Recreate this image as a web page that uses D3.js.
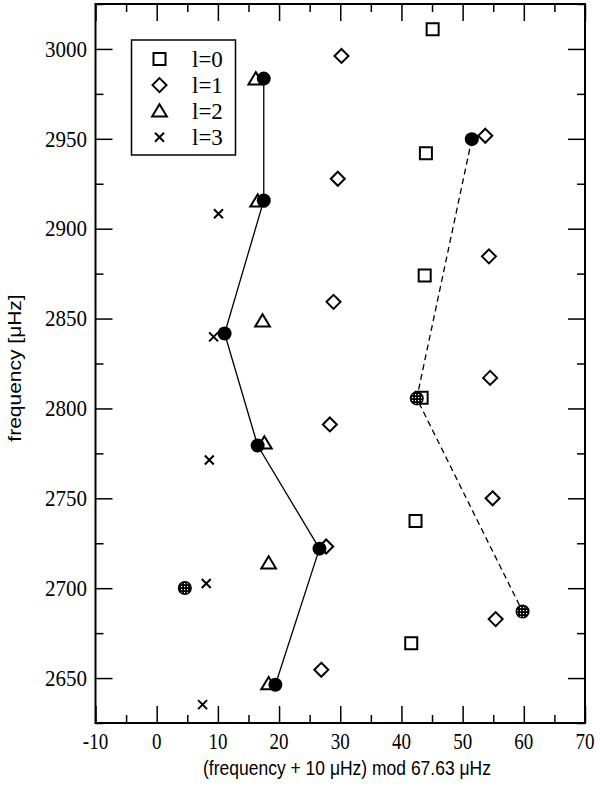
<!DOCTYPE html>
<meta charset="utf-8">
<style>
body { margin: 0; background: #fff; }
.tick-label { font-family: "Liberation Serif", "Times New Roman", serif; font-size: 19px; fill: #000; }
.ytick-label { font-family: "Liberation Serif", "Times New Roman", serif; font-size: 21px; fill: #000; }
.title { font-family: "Liberation Sans", Arial, sans-serif; font-size: 17.5px; fill: #000; }
.legend text { font-family: "Liberation Serif", "Times New Roman", serif; font-size: 23px; fill: #000; }
</style>
<svg width="600" height="786"></svg>
<script src="https://d3js.org/d3.v7.min.js"></script>
<script>

// l=0 .. l=3 modes: offset (x) and frequency (y)
var l0Offset = [45.1, 44.0, 43.8, 43.3, 42.3, 41.6];
var l0Freq   = [3010.9, 2942.0, 2874.0, 2806.0, 2737.4, 2669.3];
var l1Offset = [30.2, 53.7, 29.6, 54.3, 28.9, 54.5, 28.3, 54.9, 27.7, 55.4, 26.9];
var l1Freq   = [2996.1, 2951.7, 2927.8, 2884.6, 2859.3, 2817.0, 2791.1, 2750.0, 2723.2, 2682.8, 2654.6];
var l2Offset = [16.2, 16.5, 17.3, 17.6, 18.3, 18.3];
var l2Freq   = [2983.2, 2915.2, 2848.5, 2780.6, 2713.9, 2646.7];
var l3Offset = [10.1, 9.3, 8.6, 8.1, 7.5];
var l3Freq   = [2908.3, 2839.8, 2771.3, 2702.6, 2635.2];

// filled circles joined by solid line
var solidOffset = [17.5, 17.5, 11.1, 16.5, 26.6, 19.4];
var solidFreq   = [2983.5, 2915.7, 2841.7, 2779.4, 2722.0, 2646.3];
// circles joined by dashed line (true = dotted fill)
var dashOffset = [51.5, 42.5, 59.8];
var dashFreq   = [2949.8, 2805.6, 2687.0];
var dashDotted = [false, true, true];
// lone dotted circle
var loneOffset = [4.6];
var loneFreq   = [2700.1];

var legendLabels = ["l=0", "l=1", "l=2", "l=3"];
var xTicks = [-10, 0, 10, 20, 30, 40, 50, 60, 70];
var yTicks = [2650, 2700, 2750, 2800, 2850, 2900, 2950, 3000];

var svg = d3.select("svg");
var x = d3.scaleLinear().domain([-10, 70]).range([95.5, 585]);
var y = d3.scaleLinear().domain([2625, 3025]).range([723, 4]);

var defs = svg.append("defs");
var pat = defs.append("pattern").attr("id", "dots")
    .attr("width", 3).attr("height", 3).attr("patternUnits", "userSpaceOnUse");
pat.append("rect").attr("width", 3).attr("height", 3).attr("fill", "#000");
pat.append("rect").attr("x", 1).attr("y", 1).attr("width", 1.2).attr("height", 1.2).attr("fill", "#fff");

// axes, ticks inside on all four sides
var xMinor = d3.range(-5, 70, 10);
var yMinor = d3.range(2625, 3030, 50);
[[d3.axisBottom, "translate(0,723)"], [d3.axisTop, "translate(0,4)"]].forEach(function(a) {
    svg.append("g").attr("transform", a[1])
        .call(a[0](x).tickValues(xTicks).tickSizeInner(-17).tickSizeOuter(0).tickFormat(""));
    svg.append("g").attr("transform", a[1])
        .call(a[0](x).tickValues(xMinor).tickSizeInner(-8).tickSizeOuter(0).tickFormat(""));
});
[[d3.axisLeft, "translate(95.5,0)"], [d3.axisRight, "translate(585,0)"]].forEach(function(a) {
    svg.append("g").attr("transform", a[1])
        .call(a[0](y).tickValues(yTicks).tickSizeInner(-17).tickSizeOuter(0).tickFormat(""));
    svg.append("g").attr("transform", a[1])
        .call(a[0](y).tickValues(yMinor).tickSizeInner(-8).tickSizeOuter(0).tickFormat(""));
});
svg.selectAll(".domain").remove();
svg.selectAll(".tick line").attr("stroke", "#000").attr("stroke-width", 1.5);

svg.append("rect").attr("x", 95.5).attr("y", 4).attr("width", 585 - 95.5).attr("height", 719)
    .attr("fill", "none").attr("stroke", "#000").attr("stroke-width", 2);

// tick labels
svg.selectAll(".xlab").data(xTicks).enter().append("text")
    .attr("class", "tick-label").attr("text-anchor", "middle")
    .attr("transform", function(d) { return "translate(" + x(d) + ",749) scale(1,1.2)"; })
    .text(function(d) { return d; });
svg.selectAll(".ylab").data(yTicks).enter().append("text")
    .attr("class", "ytick-label").attr("text-anchor", "end")
    .attr("transform", function(d) { return "translate(87," + (y(d) + 7.8) + ") scale(1,1.1)"; })
    .text(function(d) { return d; });

// titles
svg.append("text").attr("class", "title").attr("text-anchor", "middle")
    .attr("transform", "translate(347,775) scale(1,1.15)")
    .text("(frequency + 10 \u03bcHz) mod 67.63 \u03bcHz");
svg.append("text").attr("class", "title").attr("text-anchor", "middle")
    .attr("transform", "translate(21,368) scale(1,1.2) rotate(-90)")
    .text("frequency [\u03bcHz]");

// symbols
function square(s) { return "M" + (-s) + "," + (-s) + "H" + s + "V" + s + "H" + (-s) + "Z"; }
function diamond(s) { return "M0," + (-s) + "L" + s + ",0L0," + s + "L" + (-s) + ",0Z"; }
function triangle(s) { return "M0," + (-s) + "L" + (s * 1.05) + "," + (s * 0.75) + "L" + (-s * 1.05) + "," + (s * 0.75) + "Z"; }
function cross(s) { return "M" + (-s) + "," + (-s) + "L" + s + "," + s + "M" + (-s) + "," + s + "L" + s + "," + (-s); }

var shapes = [
    {xs: l0Offset, ys: l0Freq, path: square(6)},
    {xs: l1Offset, ys: l1Freq, path: diamond(7)},
    {xs: l2Offset, ys: l2Freq, path: triangle(7)},
    {xs: l3Offset, ys: l3Freq, path: cross(4.5)}
];
var marks = svg.append("g");
shapes.forEach(function(s) {
    marks.selectAll(null).data(d3.range(s.xs.length)).enter().append("path")
        .attr("d", s.path)
        .attr("transform", function(i) { return "translate(" + x(s.xs[i]) + "," + y(s.ys[i]) + ")"; })
        .attr("fill", "none").attr("stroke", "#000").attr("stroke-width", 2);
});

// lines
function pathOf(xs, ys) {
    return d3.line()(xs.map(function(v, i) { return [x(v), y(ys[i])]; }));
}
svg.append("path").attr("d", pathOf(solidOffset, solidFreq))
    .attr("fill", "none").attr("stroke", "#000").attr("stroke-width", 1.3);
svg.append("path").attr("d", pathOf(dashOffset, dashFreq))
    .attr("fill", "none").attr("stroke", "#000").attr("stroke-width", 1.3)
    .attr("stroke-dasharray", "6,4");

// circles
svg.selectAll(".solid").data(d3.range(solidOffset.length)).enter().append("circle")
    .attr("cx", function(i) { return x(solidOffset[i]); })
    .attr("cy", function(i) { return y(solidFreq[i]); })
    .attr("r", 7).attr("fill", "#000");
svg.selectAll(".dash").data(d3.range(dashOffset.length)).enter().append("circle")
    .attr("cx", function(i) { return x(dashOffset[i]); })
    .attr("cy", function(i) { return y(dashFreq[i]); })
    .attr("r", function(i) { return dashDotted[i] ? 6.3 : 7; })
    .attr("fill", function(i) { return dashDotted[i] ? "url(#dots)" : "#000"; })
    .attr("stroke", "#000").attr("stroke-width", function(i) { return dashDotted[i] ? 1.5 : 0; });
svg.selectAll(".lone").data(d3.range(loneOffset.length)).enter().append("circle")
    .attr("cx", function(i) { return x(loneOffset[i]); })
    .attr("cy", function(i) { return y(loneFreq[i]); })
    .attr("r", 6.3).attr("fill", "url(#dots)").attr("stroke", "#000").attr("stroke-width", 1.5);

// legend
var leg = svg.append("g").attr("class", "legend");
leg.append("rect").attr("x", 131.5).attr("y", 40).attr("width", 104).attr("height", 115)
    .attr("fill", "#fff").attr("stroke", "#000").attr("stroke-width", 1.5);
var legRows = leg.selectAll(".row").data(legendLabels).enter().append("g")
    .attr("transform", function(d, i) { return "translate(0," + (59 + i * 26.1) + ")"; });
legRows.append("path")
    .attr("d", function(d, i) { return shapes[i].path; })
    .attr("transform", "translate(159.5,0)")
    .attr("fill", "none").attr("stroke", "#000").attr("stroke-width", 2);
legRows.append("text").attr("x", 192).attr("y", 7.5).text(function(d) { return d; });

</script>
